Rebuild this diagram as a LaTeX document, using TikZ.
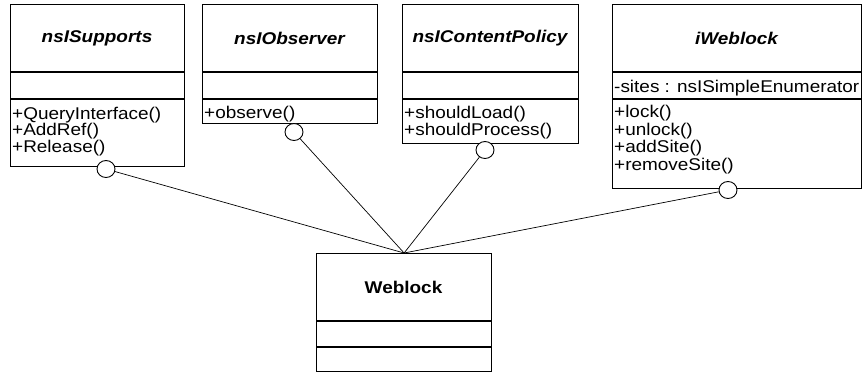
\documentclass[tikz,border=0pt]{standalone}
\usepackage{fontspec}
\setmainfont{Liberation Sans}[FakeStretch=1.115]
\usetikzlibrary{shapes.geometric}
\begin{document}
\begin{tikzpicture}[x=1pt,y=-1pt,
  umlbox/.style={draw, line width=1.2pt, rectangle, inner sep=0pt, anchor=north west},
  sepline/.style={line width=1.2pt},
  ttl/.style={font=\fontsize{17}{18}\selectfont\bfseries\itshape, inner sep=0pt},
  ttlb/.style={font=\fontsize{17}{18}\selectfont\bfseries, inner sep=0pt},
  mem/.style={font=\fontsize{17}{18}\selectfont, inner sep=0pt, anchor=base west},
  lolli/.style={draw, ellipse, line width=0.9pt, fill=white, minimum width=18pt, minimum height=17pt, inner sep=0pt},
  conn/.style={line width=0.7pt}]
\useasboundingbox (0,0) rectangle (864,373);
% boxes
\node[umlbox, minimum width=174pt, minimum height=162pt] (sup) at (10,4) {};
\node[umlbox, minimum width=175pt, minimum height=119pt] (obs) at (202,4) {};
\node[umlbox, minimum width=176pt, minimum height=139pt] (cp) at (402,4) {};
\node[umlbox, minimum width=249pt, minimum height=184pt] (iw) at (612,4) {};
\node[umlbox, minimum width=175pt, minimum height=118pt] (web) at (316,253) {};
% compartment lines
\foreach \b in {sup,obs,cp,iw}{
  \draw[sepline] (\b.north west |- 0,72) -- (\b.north east |- 0,72);
  \draw[sepline] (\b.north west |- 0,99) -- (\b.north east |- 0,99);
}
\draw[sepline] (web.north west |- 0,321) -- (web.north east |- 0,321);
\draw[sepline] (web.north west |- 0,347) -- (web.north east |- 0,347);
% titles
\node[ttl] (supt) at (97,38) {nsISupports};
\node[ttl] (obst) at (289.5,38) {nsIObserver};
\node[ttl] (cpt) at (490,38) {nsIContentPolicy};
\node[ttl] (iwt) at (736.5,38) {iWeblock};
\node[ttlb] (webt) at (403.5,287) {Weblock};
% members
\node[mem] (m1) at (12,119) {+QueryInterface()};
\node[mem] (m2) at (12,135.5) {+AddRef()};
\node[mem] (m3) at (12,152) {+Release()};
\node[mem] (m4) at (204,118) {+observe()};
\node[mem] (m5) at (404,118) {+shouldLoad()};
\node[mem] (m6) at (404,135) {+shouldProcess()};
\node[mem] (a1) at (614,92) {-sites : nsISimpleEnumerator};
\node[mem] (m7) at (614,117) {+lock()};
\node[mem] (m8) at (614,135) {+unlock()};
\node[mem] (m9) at (614,152.5) {+addSite()};
\node[mem] (m10) at (614,170) {+removeSite()};
% lollipops
\node[lolli] (c1) at (106,169) {};
\node[lolli] (c2) at (294,132) {};
\node[lolli] (c3) at (485,150) {};
\node[lolli] (c4) at (728,190) {};
\foreach \c in {c1,c2,c3,c4}{
  \draw[conn] (\c) -- (web.north);
}
\end{tikzpicture}
\end{document}
